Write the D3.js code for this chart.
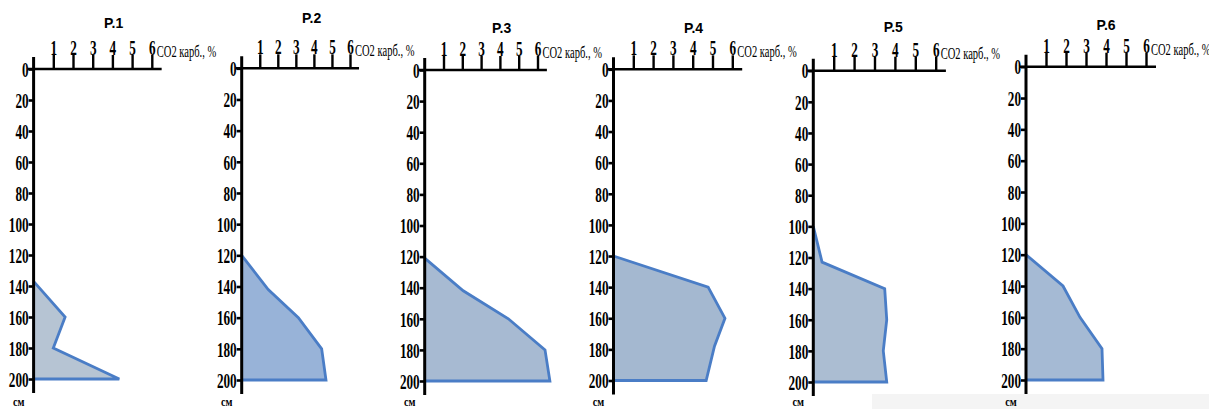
<!DOCTYPE html>
<html>
<head>
<meta charset="utf-8">
<script src="https://cdn.jsdelivr.net/npm/d3@7"></script>
<style>
  html, body { margin: 0; padding: 0; background: #fff; }
  svg { display: block; }
</style>
</head>
<body>
<svg id="chart" width="1209" height="409"></svg>
<script>
// Carbonate CO2 (%) profiles by depth (cm) for six soil pits
const titles = ["P.1", "P.2", "P.3", "P.4", "P.5", "P.6"];
const valueTicks = [1, 2, 3, 4, 5, 6];
const depthTicks = [0, 20, 40, 60, 80, 100, 120, 140, 160, 180, 200];
const valueLabel = "CO2 карб., %";
const depthLabel = "см";

const depthP1 = [137, 160, 180, 200];
const co2P1   = [0, 1.6, 1.0, 4.35];
const depthP2 = [120, 142, 160, 180, 200];
const co2P2   = [0, 1.47, 3.14, 4.43, 4.67];
const depthP3 = [121, 142, 160, 180, 200];
const co2P3   = [0, 2.05, 4.45, 6.4, 6.66];
const depthP4 = [120, 140, 160, 178, 200];
const co2P4   = [0, 4.78, 5.63, 5.1, 4.68];
const depthP5 = [100, 123, 140, 160, 180, 200];
const co2P5   = [0, 0.43, 3.5, 3.6, 3.43, 3.6];
const depthP6 = [120, 140, 160, 180, 200];
const co2P6   = [0, 1.85, 2.7, 3.8, 3.85];

const depths = [depthP1, depthP2, depthP3, depthP4, depthP5, depthP6];
const values = [co2P1, co2P2, co2P3, co2P4, co2P5, co2P6];

// layout of each small panel: origin (x of depth axis, y of value axis),
// y of the 200 cm tick, width of one % unit, title placement
const layout = [
  { ox: 33.6,   oy: 69.0, by: 379.0, unit: 19.7,  ty: 23, tdx: 80 },
  { ox: 241.7,  oy: 68.3, by: 380.0, unit: 18.05, ty: 18, tdx: 70 },
  { ox: 424.7,  oy: 70.0, by: 381.0, unit: 18.8,  ty: 28, tdx: 77 },
  { ox: 613.5,  oy: 69.3, by: 380.5, unit: 19.8,  ty: 28, tdx: 80 },
  { ox: 813.3,  oy: 70.7, by: 382.0, unit: 20.4,  ty: 27, tdx: 80 },
  { ox: 1026.0, oy: 66.7, by: 380.0, unit: 20.0,  ty: 25, tdx: 80 }
];
const fills = ["#b6c4d3", "#98b3d8", "#a7bad2", "#a4b8d0", "#abbdd2", "#a5bad4"];
const strokeColor = "#4a7dc6";
const squeeze = 0.6;
const serif = "'Liberation Serif', 'Times New Roman', serif";

const svg = d3.select("#chart");

// faint grey strip along the lower right edge
svg.append("rect")
  .attr("x", 872).attr("y", 394).attr("width", 337).attr("height", 15)
  .attr("fill", "#f4f4f4");

titles.forEach((title, i) => {
  const L = layout[i];
  const x = d3.scaleLinear().domain([0, 6]).range([L.ox, L.ox + 6 * L.unit]);
  const y = d3.scaleLinear().domain([0, 200]).range([L.oy, L.by]);
  const g = svg.append("g");

  const rows = depths[i].map((d, k) => ({ depth: d, value: values[i][k] }));

  // filled profile between the depth axis and the CO2 curve
  const area = d3.area()
    .y(d => y(d.depth))
    .x0(x(0))
    .x1(d => x(d.value));
  g.append("path")
    .datum(rows)
    .attr("d", area)
    .attr("fill", fills[i])
    .attr("stroke", "none");

  // outline: curve then the 200 cm closing line back to the axis
  const outline = rows.concat([{ depth: 200, value: 0 }]);
  const line = d3.line().x(d => x(d.value)).y(d => y(d.depth));
  g.append("path")
    .datum(outline)
    .attr("d", line)
    .attr("fill", "none")
    .attr("stroke", strokeColor)
    .attr("stroke-width", 2.8)
    .attr("stroke-linejoin", "miter");

  // value axis along the top
  const top = g.append("g")
    .attr("transform", `translate(0,${L.oy})`)
    .call(d3.axisTop(x).tickValues(valueTicks).tickSize(14).tickPadding(0).tickFormat(d3.format("d")));
  top.select(".domain").remove();
  top.selectAll(".tick line").attr("stroke", "#000").attr("stroke-width", 2.4);
  top.selectAll(".tick text")
    .attr("fill", "#000")
    .attr("font-family", serif)
    .attr("font-weight", "bold")
    .attr("font-size", 22)
    .attr("transform", `scale(${squeeze},1)`);
  g.append("line")
    .attr("x1", x(0) - 6).attr("x2", x(6.5))
    .attr("y1", L.oy).attr("y2", L.oy)
    .attr("stroke", "#000").attr("stroke-width", 2.6);

  g.append("text")
    .attr("transform", `translate(${x(6) + 5},${L.oy - 12}) scale(0.62,1)`)
    .attr("font-family", serif)
    .attr("font-size", 17)
    .attr("fill", "#000")
    .text(valueLabel);

  // depth axis on the left
  const left = g.append("g")
    .attr("transform", `translate(${L.ox},0)`)
    .call(d3.axisLeft(y).tickValues(depthTicks).tickSize(5).tickPadding(0).tickFormat(d3.format("d")));
  left.select(".domain").remove();
  left.selectAll(".tick line").attr("stroke", "#000").attr("stroke-width", 2.6);
  left.selectAll(".tick text")
    .attr("fill", "#000")
    .attr("font-family", serif)
    .attr("font-weight", "bold")
    .attr("font-size", 22)
    .attr("x", -5 / squeeze)
    .attr("dy", "0.33em")
    .attr("transform", `scale(${squeeze},1)`);
  g.append("line")
    .attr("x1", L.ox).attr("x2", L.ox)
    .attr("y1", L.oy - 12).attr("y2", y(200) + 14)
    .attr("stroke", "#000").attr("stroke-width", 3);

  g.append("text")
    .attr("transform", `translate(${L.ox - 15},405.5) scale(0.85,1)`)
    .attr("text-anchor", "middle")
    .attr("font-family", serif)
    .attr("font-weight", "bold")
    .attr("font-size", 12)
    .attr("fill", "#000")
    .text(depthLabel);

  // panel title
  g.append("text")
    .attr("x", L.ox + L.tdx).attr("y", L.ty)
    .attr("dy", "0.35em")
    .attr("text-anchor", "middle")
    .attr("font-family", "'Liberation Sans', Arial, sans-serif")
    .attr("font-weight", "bold")
    .attr("font-size", 14)
    .attr("fill", "#000")
    .text(title);
});
</script>
</body>
</html>
